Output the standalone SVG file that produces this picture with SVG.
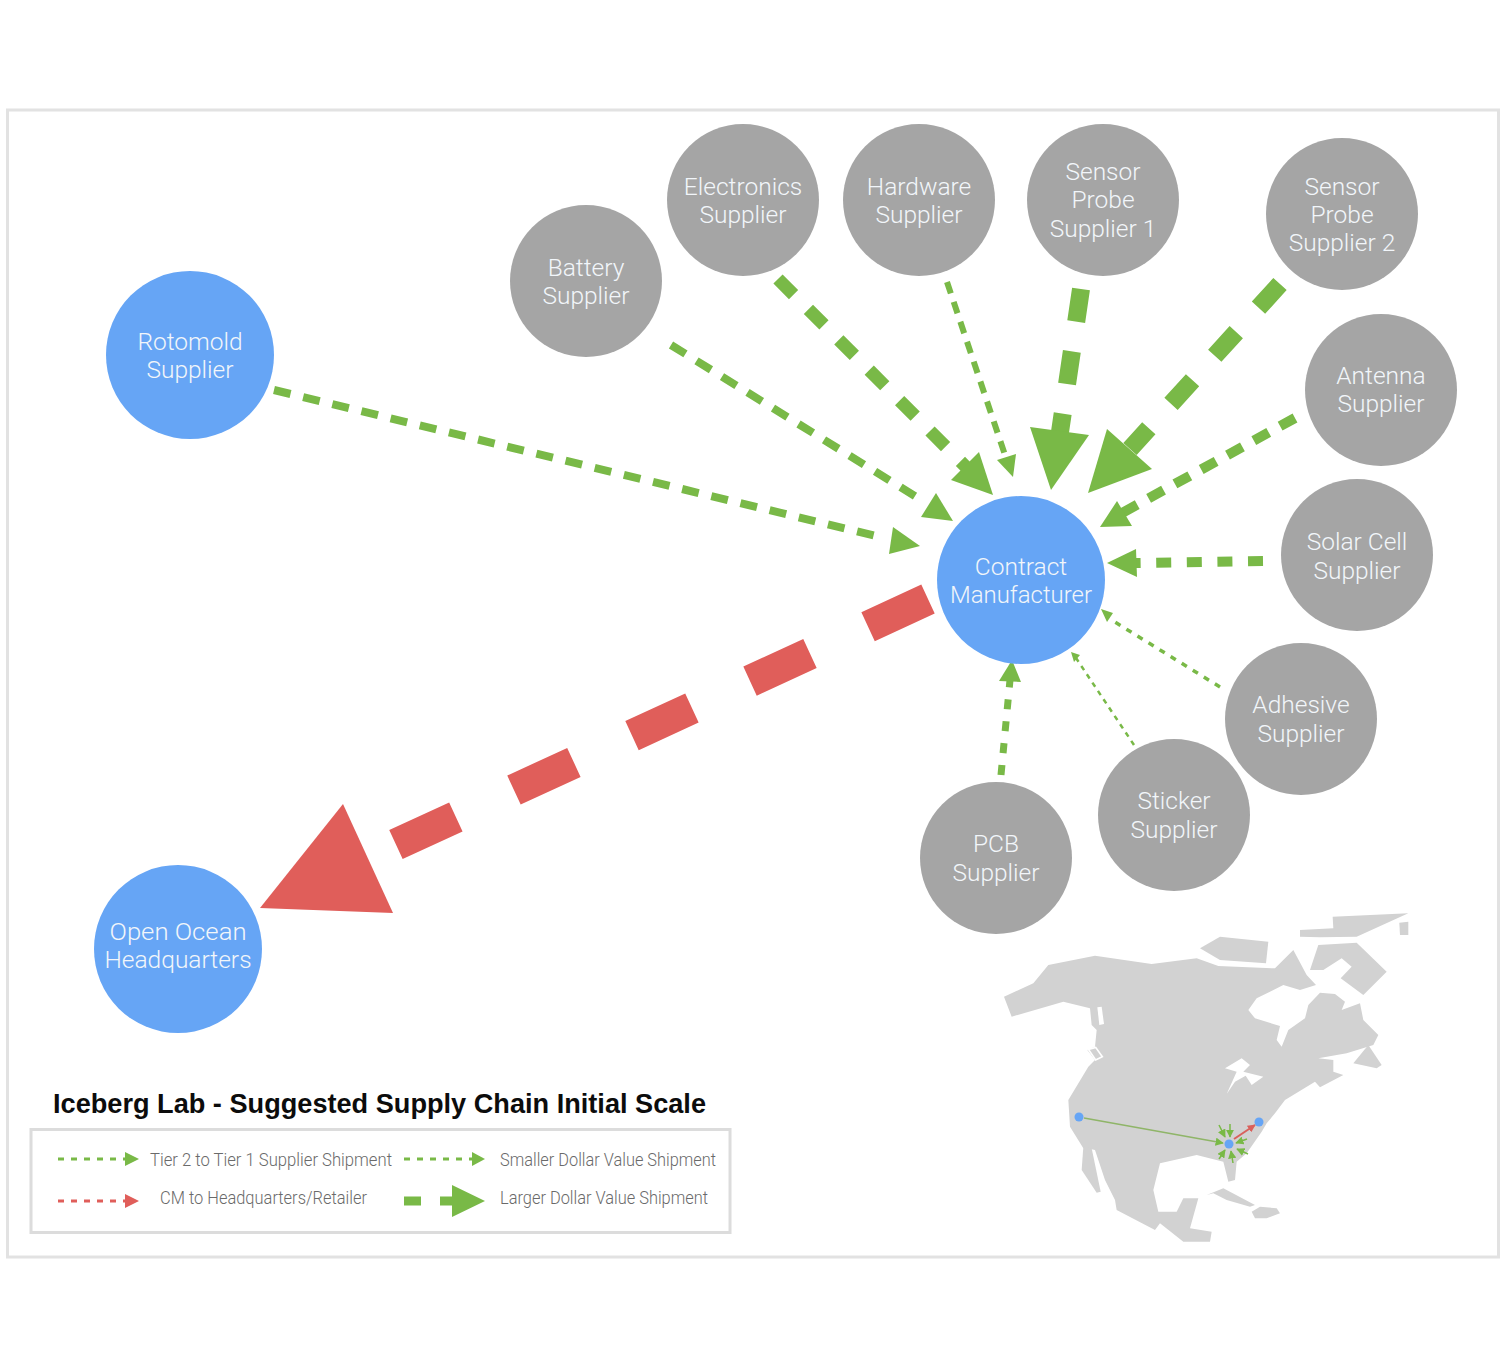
<svg xmlns="http://www.w3.org/2000/svg" width="1506" height="1365" viewBox="0 0 1506 1365">
<style>
.g{fill:#a5a5a5}.b{fill:#66a5f5}
.n{font-family:"Roboto","Liberation Sans",sans-serif;font-weight:300;font-size:24.5px;fill:#f2f6fa;text-anchor:middle}
.lg{font-family:"Roboto","Liberation Sans",sans-serif;font-weight:300;font-size:18px;fill:#6a6a6a}
.ln{fill:none;stroke:#79b947}.hd{fill:#79b947}.rl{fill:none;stroke:#e05e5a}.rh{fill:#e05e5a}
.m{fill:#d2d2d2}
</style>
<defs>
<marker id="sg" viewBox="0 0 10 10" refX="9" refY="5" markerWidth="5.500" markerHeight="5.500" orient="auto"><path d="M0 0L10 5L0 10Z" fill="#79b947"/></marker>
<marker id="sr" viewBox="0 0 10 10" refX="9" refY="5" markerWidth="4" markerHeight="4" orient="auto"><path d="M0 0L10 5L0 10Z" fill="#d9605c"/></marker>
</defs>
<rect width="1506" height="1365" fill="#fff"/>
<rect id="frame" x="7.500" y="110" width="1491" height="1147" fill="none" stroke="#e2e2e2" stroke-width="3"/>

<g id="map" transform="translate(980 890) scale(.33333)">
<path class="m" d="M72 320L160 280L205 225L345 197L515 222L650 205L715 228L885 235L940 180L980 255L1008 285L960 300L910 285L830 325L805 360L825 385L900 408L890 450L905 470L925 420L975 385L985 345L1020 308L1065 312L1095 335L1085 360L1140 340L1150 390L1195 435L1180 465L1100 490L1015 505L1060 510L1060 545L1090 555L1020 592L1005 575L915 630L885 670L860 700L845 725L800 790L770 815L765 870L745 875L730 815L650 795L540 820L520 900L535 965L590 965L610 925L655 925L630 1015L695 1025L690 1055L610 1055L540 1000L525 1020L410 960L405 930L375 870L345 780L335 778L310 775L270 710L265 630L325 530L345 510L322 480L345 470L350 420L335 405L330 355L250 335L95 380Z"/>
<path class="m" d="M310 770L305 840L350 908L362 905L335 775Z"/>
<path fill="#fff" d="M352 352L365 350L372 402L358 405Z"/>
<path class="m" stroke="#fff" stroke-width="5" d="M325 478L347 472L367 500L347 510Z"/>
<path fill="#fff" d="M735 535L785 505L810 525L790 545L850 560L815 585L797 557L765 575L740 612L770 545Z"/>
<path class="m" d="M960 120L1060 115L1058 80L1285 70L1130 140L1020 142L960 140Z"/>
<path class="m" d="M1258 98L1285 95L1285 135L1260 135Z"/>
<path class="m" d="M660 175L720 140L865 155L858 220L720 210Z"/>
<path class="m" d="M990 240L1015 165L1130 158L1220 245L1150 315L1082 265L1115 230L1085 205L1030 240Z"/>
<path class="m" d="M1120 520L1165 465L1205 525L1190 535Z"/>
<path class="m" d="M680 915L730 895L825 945L810 950L740 930L700 910Z"/>
<path class="m" d="M815 965L840 950L890 955L900 970L860 985L825 985Z"/>
</g>
<g id="map-routes" fill="none" stroke-width="1.500">
<g stroke="#79b947">
<line x1="1084" y1="1118" x2="1223" y2="1143" stroke="#8fb568" marker-end="url(#sg)"/>
<line x1="1219" y1="1125" x2="1225" y2="1137" marker-end="url(#sg)"/>
<line x1="1230" y1="1124" x2="1230" y2="1137" marker-end="url(#sg)"/>
<line x1="1247" y1="1139" x2="1236" y2="1143" marker-end="url(#sg)"/>
<line x1="1248" y1="1154" x2="1237" y2="1149" marker-end="url(#sg)"/>
<line x1="1219" y1="1159" x2="1225" y2="1150" marker-end="url(#sg)"/>
<line x1="1233" y1="1163" x2="1231" y2="1151" marker-end="url(#sg)"/>
</g>
<line x1="1234" y1="1139" x2="1255" y2="1125" stroke="#d9605c" stroke-width="2" marker-end="url(#sr)"/>
</g>
<g id="map-dots" class="b"><circle cx="1079" cy="1117" r="4.500"/><circle cx="1229" cy="1144" r="4.500"/><circle cx="1259" cy="1122" r="4.500"/></g>

<g id="connectors">
<line class="ln" x1="274" y1="390" x2="880" y2="537" stroke-width="8" stroke-dasharray="17 13"/><polygon class="hd" points="920,546 893,527 889,554"/>
<line class="ln" x1="671" y1="345" x2="918" y2="498" stroke-width="8" stroke-dasharray="17 13"/><polygon class="hd" points="953,521 936,493 921,517"/>
<line class="ln" x1="778" y1="279" x2="966" y2="467" stroke-width="13" stroke-dasharray="22 21"/><polygon class="hd" points="993,495 979,452 951,480"/>
<line class="ln" x1="947" y1="282" x2="1006" y2="458" stroke-width="6" stroke-dasharray="12 9"/><polygon class="hd" points="1013,477 1016,454 997,460"/>
<line class="ln" x1="1081" y1="289" x2="1060" y2="432" stroke-width="18" stroke-dasharray="33 30"/><polygon class="hd" points="1051,490 1030,427 1089,435"/>
<line class="ln" x1="1280" y1="284" x2="1130" y2="449" stroke-width="18" stroke-dasharray="32 33"/><polygon class="hd" points="1088,493 1107,429 1152,469"/>
<line class="ln" x1="1295" y1="418" x2="1122" y2="513" stroke-width="10" stroke-dasharray="17 13"/><polygon class="hd" points="1100,527 1117,501 1132,526"/>
<line class="ln" x1="1263" y1="561" x2="1134" y2="563" stroke-width="10" stroke-dasharray="15 15.600"/><polygon class="hd" points="1107,563 1136,549 1137,577"/>
<line class="ln" x1="1220" y1="687" x2="1110" y2="619" stroke-width="3.500" stroke-dasharray="6 7"/><polygon class="hd" points="1101,609 1113,613 1107,622"/>
<line class="ln" x1="1134" y1="745" x2="1076" y2="658" stroke-width="2.500" stroke-dasharray="5 5"/><polygon class="hd" points="1071,652 1080,655 1074,662"/>
<line class="ln" x1="1001" y1="775" x2="1010" y2="680" stroke-width="7" stroke-dasharray="10 12"/><polygon class="hd" points="1012,660 999,681 1021,682"/>
<line class="rl" x1="928" y1="599" x2="395" y2="845" stroke-width="32" stroke-dasharray="66 64"/><polygon class="rh" points="260,908 343,804 393,913"/>
</g>

<g id="rotomold"><circle class="b" cx="190" cy="355" r="84"/><text class="n" x="190" y="350">Rotomold</text><text class="n" x="190" y="378">Supplier</text></g>
<g id="battery"><circle class="g" cx="586" cy="281" r="76"/><text class="n" x="586" y="276">Battery</text><text class="n" x="586" y="304">Supplier</text></g>
<g id="electronics"><circle class="g" cx="743" cy="200" r="76"/><text class="n" x="743" y="195">Electronics</text><text class="n" x="743" y="223">Supplier</text></g>
<g id="hardware"><circle class="g" cx="919" cy="200" r="76"/><text class="n" x="919" y="195">Hardware</text><text class="n" x="919" y="223">Supplier</text></g>
<g id="probe1"><circle class="g" cx="1103" cy="200" r="76"/><text class="n" x="1103" y="180">Sensor</text><text class="n" x="1103" y="208">Probe</text><text class="n" x="1103" y="237">Supplier 1</text></g>
<g id="probe2"><circle class="g" cx="1342" cy="214" r="76"/><text class="n" x="1342" y="195">Sensor</text><text class="n" x="1342" y="223">Probe</text><text class="n" x="1342" y="251">Supplier 2</text></g>
<g id="antenna"><circle class="g" cx="1381" cy="390" r="76"/><text class="n" x="1381" y="384">Antenna</text><text class="n" x="1381" y="412">Supplier</text></g>
<g id="solar"><circle class="g" cx="1357" cy="555" r="76"/><text class="n" x="1357" y="550">Solar Cell</text><text class="n" x="1357" y="579">Supplier</text></g>
<g id="adhesive"><circle class="g" cx="1301" cy="719" r="76"/><text class="n" x="1301" y="713">Adhesive</text><text class="n" x="1301" y="742">Supplier</text></g>
<g id="sticker"><circle class="g" cx="1174" cy="815" r="76"/><text class="n" x="1174" y="809">Sticker</text><text class="n" x="1174" y="838">Supplier</text></g>
<g id="pcb"><circle class="g" cx="996" cy="858" r="76"/><text class="n" x="996" y="852">PCB</text><text class="n" x="996" y="881">Supplier</text></g>
<g id="contract"><circle class="b" cx="1021" cy="580" r="84"/><text class="n" x="1021" y="575">Contract</text><text class="n" x="1021" y="603" textLength="142" lengthAdjust="spacingAndGlyphs">Manufacturer</text></g>
<g id="openocean"><circle class="b" cx="178" cy="949" r="84"/><text class="n" x="178" y="940" textLength="137" lengthAdjust="spacingAndGlyphs">Open Ocean</text><text class="n" x="178" y="968">Headquarters</text></g>

<g id="legend">
<text x="53" y="1113" font-family="'Liberation Sans',sans-serif" font-weight="700" font-size="27" fill="#0c0c0c" textLength="653" lengthAdjust="spacingAndGlyphs">Iceberg Lab - Suggested Supply Chain Initial Scale</text>
<rect x="31" y="1129.500" width="699" height="103" fill="none" stroke="#dcdcdc" stroke-width="3"/>
<line class="ln" x1="58" y1="1159" x2="125" y2="1159" stroke-width="3" stroke-dasharray="6 7"/><polygon class="hd" points="125,1152 139,1159 125,1166"/>
<text class="lg" x="150" y="1166" textLength="242" lengthAdjust="spacingAndGlyphs">Tier 2 to Tier 1 Supplier Shipment</text>
<line class="ln" x1="404" y1="1159" x2="472" y2="1159" stroke-width="3" stroke-dasharray="6 7"/><polygon class="hd" points="472,1152 485,1159 472,1166"/>
<text class="lg" x="500" y="1166" textLength="216" lengthAdjust="spacingAndGlyphs">Smaller Dollar Value Shipment</text>
<line class="rl" x1="58" y1="1201" x2="125" y2="1201" stroke-width="3" stroke-dasharray="6 7"/><polygon class="rh" points="125,1194 139,1201 125,1208"/>
<text class="lg" x="160" y="1204" textLength="207" lengthAdjust="spacingAndGlyphs">CM to Headquarters/Retailer</text>
<line class="ln" x1="404" y1="1201" x2="453" y2="1201" stroke-width="9" stroke-dasharray="17 19"/><polygon class="hd" points="452,1185 485,1201 452,1217"/>
<text class="lg" x="500" y="1204" textLength="208" lengthAdjust="spacingAndGlyphs">Larger Dollar Value Shipment</text>
</g>
</svg>
